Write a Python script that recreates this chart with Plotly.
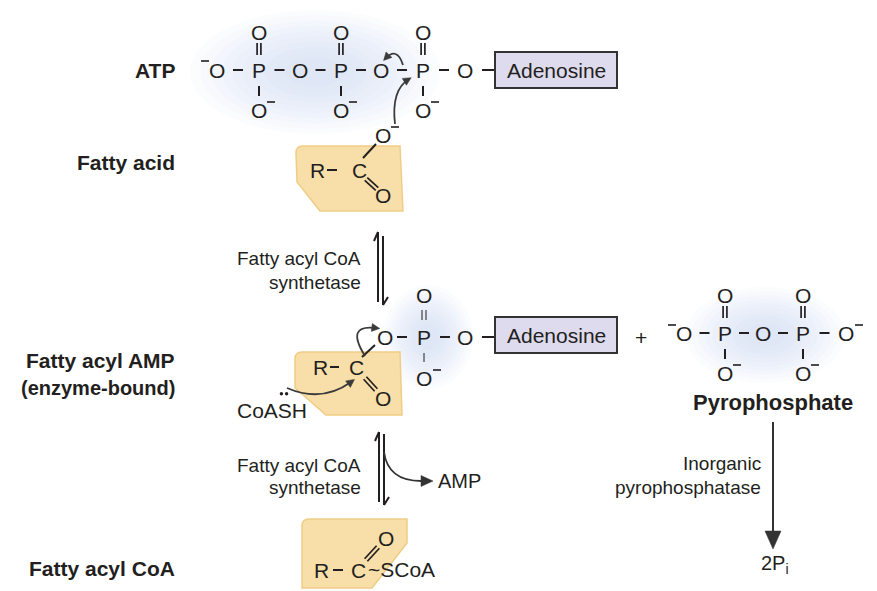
import plotly.graph_objects as go

# text content of the scheme
stage_labels = ["ATP", "Fatty acid", "Fatty acyl AMP", "(enzyme-bound)", "Fatty acyl CoA"]
enzyme_lines = ["Fatty acyl CoA", "synthetase"]
ppase_lines = ["Inorganic", "pyrophosphatase"]
atp_chain = ["O", "P", "O", "P", "O", "P", "O"]
amp_chain = ["O", "P", "O"]
ppi_chain = ["O", "P", "O", "P", "O"]
group_names = ["Adenosine", "Pyrophosphate", "AMP", "CoASH", "2P<sub>i</sub>", "~SCoA", "+", "R", "C"]

INK = "#231f20"
FONT = "Liberation Sans, Arial, sans-serif"
ATOM = 21

fig = go.Figure()
fig.add_trace(go.Scatter(x=[10, 870], y=[10, 580], mode="markers",
                         marker=dict(opacity=0), hoverinfo="skip", showlegend=False))
shapes = []
notes = []


def txt(x, y, s, size=ATOM, bold=False, anchor="center"):
    if bold:
        s = "<b>" + s + "</b>"
    notes.append(dict(x=x, y=y, text=s, showarrow=False, xanchor=anchor, yanchor="middle",
                      font=dict(family=FONT, size=size, color=INK)))


def line(x0, y0, x1, y1, w=2, c=INK):
    shapes.append(dict(type="line", x0=x0, y0=y0, x1=x1, y1=y1, line=dict(color=c, width=w)))


def dbl(x0, y0, x1, y1, gap=1.9, w=1.7):
    dx, dy = x1 - x0, y1 - y0
    n = (dx * dx + dy * dy) ** 0.5
    px, py = -dy / n * gap, dx / n * gap
    line(x0 + px, y0 + py, x1 + px, y1 + py, w)
    line(x0 - px, y0 - py, x1 - px, y1 - py, w)


def minus(x, y):
    line(x - 4, y, x + 4, y, 1.6)


def head(tx, ty, fx, fy, L=10, W=4.5, c="#333333"):
    dx, dy = tx - fx, ty - fy
    n = (dx * dx + dy * dy) ** 0.5
    ux, uy = dx / n, dy / n
    bx, by = tx - ux * L, ty - uy * L
    shapes.append(dict(type="path",
                       path=f"M {tx},{ty} L {bx - uy * W},{by + ux * W} L {bx + uy * W},{by - ux * W} Z",
                       fillcolor=c, line=dict(color=c, width=0.5)))


def curve(x0, y0, cx, cy, x1, y1, c="#3a3a3a"):
    shapes.append(dict(type="path", path=f"M {x0},{y0} Q {cx},{cy} {x1},{y1}",
                       line=dict(color=c, width=1.8)))
    head(x1 + (x1 - cx) * 0.12, y1 + (y1 - cy) * 0.12, cx, cy, L=8, W=4, c=c)


def glow(cx, cy, rx, ry):
    for k in range(10):
        f = 1 - k * 0.085
        shapes.append(dict(type="circle", x0=cx - rx * f, x1=cx + rx * f, y0=cy - ry * f, y1=cy + ry * f,
                           fillcolor="rgba(196,210,238,0.07)", line=dict(width=0), layer="below"))


def box(pts):
    (x0, y0) = pts[0]
    p = f"M {x0},{y0 + 7} Q {x0},{y0} {x0 + 7},{y0} "
    p += " ".join(f"L {x},{y}" for x, y in pts[1:]) + " Z"
    shapes.append(dict(type="path", path=p, fillcolor="#f8dea8",
                       line=dict(color="#efcd86", width=1.5), layer="below"))


def adenosine(y):
    shapes.append(dict(type="rect", x0=495, x1=617, y0=y - 18, y1=y + 18,
                       fillcolor="#dedbee", line=dict(color="#333333", width=2)))
    txt(556, y, group_names[0], size=21)


def phosphate_row(xs, names, y):
    for i, (x, s) in enumerate(zip(xs, names)):
        txt(x, y, s)
        if i < len(xs) - 1:
            m = (x + xs[i + 1]) / 2
            line(m - 5, y, m + 5, y)
        if s == "P":
            txt(x, y - 38, "O")
            dbl(x, y - 27, x, y - 15, gap=1.9)
            line(x, y + 16, x, y + 26)
            txt(x, y + 40, "O")
            minus(x + 12, y + 32)


# background glows
glow(315, 72, 125, 62)
glow(428, 337, 45, 52)
glow(765, 335, 80, 48)

# substrate boxes
box([(296, 146), (400, 146), (403, 211), (320, 211), (297, 182)])
box([(295, 352), (400, 352), (402, 415), (326, 415), (295, 388)])
box([(302, 519), (407, 519), (407, 543), (372, 588), (302, 588)])

# left stage labels
for s, y in zip(stage_labels, [70, 162, 360, 388, 568]):
    txt(177, y, s, size=20 if s.startswith("(") else 21, bold=True, anchor="right")

# ATP
atp_x = [217, 259, 300, 341, 381, 423, 465]
phosphate_row(atp_x, atp_chain, 70)
minus(205, 61)
line(482, 70, 495, 70)
adenosine(70)
curve(395, 124, 391, 90, 409, 79)
curve(403, 65, 397, 46, 385, 59)

# fatty acid
txt(317, 170, group_names[7])
line(327, 170, 337, 170)
txt(359, 170, group_names[8])
line(363, 158, 376, 144)
txt(383, 135, "O")
minus(395, 127)
dbl(366, 179, 377, 189)
txt(383, 195, "O")

# first enzyme step
line(378, 232, 378, 302)
line(378, 232, 374, 241)
line(383, 236, 383, 305)
line(383, 305, 388, 297)
txt(363, 258, enzyme_lines[0], size=19, anchor="right")
txt(363, 282, enzyme_lines[1], size=19, anchor="right")

# fatty acyl AMP
amp_x = [385, 424, 465]
for x, s in zip(amp_x, amp_chain):
    txt(x, 337, s)
line(397, 337, 407, 337)
line(440, 337, 450, 337)
line(482, 337, 495, 337)
adenosine(335)
txt(424, 295, "O")
line(422, 310, 422, 320, w=1)
line(426, 310, 426, 320, w=1)
line(424, 353, 424, 362, w=1)
txt(424, 378, "O")
minus(437, 370)
txt(320, 367, group_names[7])
line(330, 367, 339, 367)
txt(356, 367, group_names[8])
line(362, 357, 375, 345)
dbl(365, 378, 376, 390)
txt(383, 398, "O")
curve(365, 356, 345, 324, 376, 328)
txt(272, 410, group_names[3])
for dx in (-2.6, 2.6):
    shapes.append(dict(type="circle", x0=284 + dx - 1.7, x1=284 + dx + 1.7, y0=392, y1=395.4,
                       fillcolor=INK, line=dict(width=0)))
curve(287, 388, 322, 403, 351, 382)

# pyrophosphate
txt(641, 337, group_names[6])
ppi_x = [684, 725, 763, 803, 846]
phosphate_row(ppi_x, ppi_chain, 333)
minus(672, 325)
minus(859, 325)
txt(773, 402, group_names[1], size=22, bold=True)
line(773, 422, 773, 534, w=2, c="#333333")
head(773, 549, 773, 520, L=18, W=8)
txt(763, 463, ppase_lines[0], size=19, anchor="right")
txt(763, 487, ppase_lines[1], size=19, anchor="right")
txt(775, 564, group_names[4], size=20)

# second enzyme step
line(379, 432, 379, 502)
line(379, 432, 375, 441)
line(384, 434, 384, 505)
line(384, 505, 389, 497)
txt(363, 465, enzyme_lines[0], size=19, anchor="right")
txt(363, 487, enzyme_lines[1], size=19, anchor="right")
shapes.append(dict(type="path", path="M 384,452 Q 388,481 421,481", line=dict(color="#333333", width=1.8)))
head(433, 481, 420, 481, L=12, W=5.5)
txt(459, 481, group_names[2], size=20)

# fatty acyl CoA
txt(321, 570, group_names[7])
line(333, 570, 343, 570)
txt(358, 570, group_names[8])
txt(366, 569, group_names[5], anchor="left")
dbl(366, 560, 378, 547)
txt(386, 538, "O")

# the page puts the figure 8px in from the corner, so the ranges start at 8
fig.update_layout(width=877, height=591, margin=dict(l=0, r=0, t=0, b=0),
                  paper_bgcolor="white", plot_bgcolor="white",
                  shapes=shapes, annotations=notes, showlegend=False)
fig.update_xaxes(range=[8, 885], visible=False, fixedrange=True)
fig.update_yaxes(range=[599, 8], visible=False, fixedrange=True)
fig.write_html("out.html")
